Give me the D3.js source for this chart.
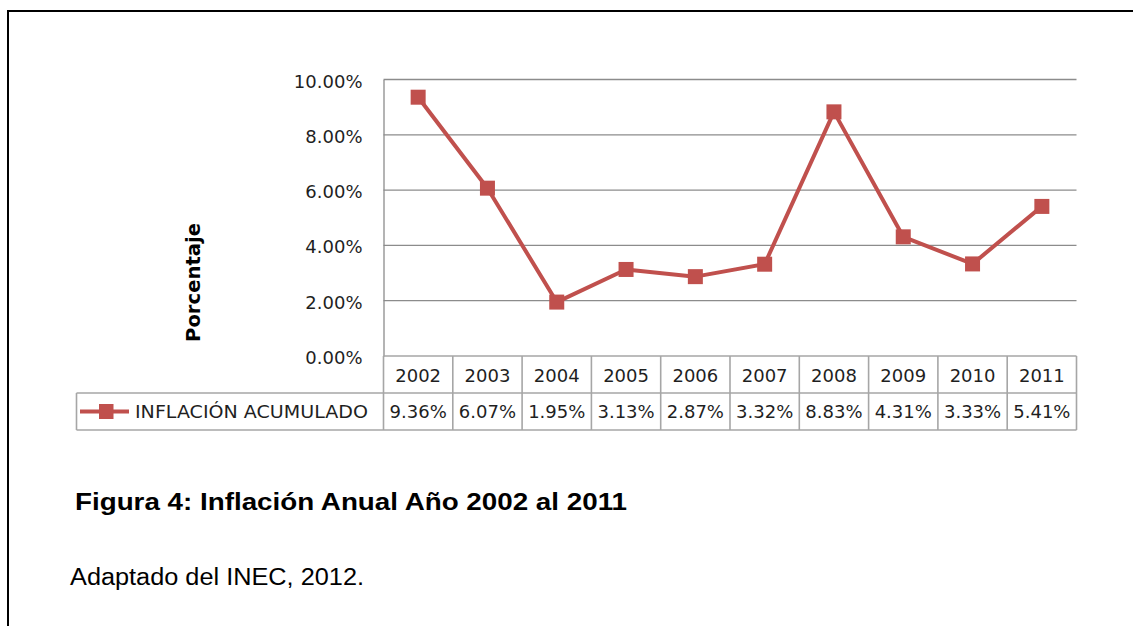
<!DOCTYPE html>
<html>
<head>
<meta charset="utf-8">
<script src="https://cdn.jsdelivr.net/npm/d3@7"></script>
<style>
  body { margin: 0; background: #fff; }
  svg { display: block; }
</style>
</head>
<body>
<div id="chart"></div>
<script>
// data
const years = ["2002", "2003", "2004", "2005", "2006", "2007", "2008", "2009", "2010", "2011"];
const inflacion = [0.0936, 0.0607, 0.0195, 0.0313, 0.0287, 0.0332, 0.0883, 0.0431, 0.0333, 0.0541];
const yTicks = [0, 0.02, 0.04, 0.06, 0.08, 0.10];
const seriesName = "INFLACIÓN  ACUMULADO";
const yTitle = "Porcentaje";
const figTitle = "Figura 4: Inflación Anual Año 2002 al 2011";
const source = "Adaptado del INEC, 2012.";

const W = 1133, H = 626;
const red = "#c0504d", grid = "#8c8c8c", tableLine = "#a6a6a6", ink = "#1f1f1f";
const font = "'DejaVu Sans', Verdana, sans-serif";
const capFont = "'Liberation Sans Narrow', 'Liberation Sans', Arial, sans-serif";

const svg = d3.select("#chart").append("svg")
    .attr("width", W).attr("height", H);

// page frame (right and bottom edges fall outside the picture)
svg.append("rect")
    .attr("x", 8).attr("y", 11)
    .attr("width", 1300).attr("height", 800)
    .attr("fill", "none").attr("stroke", "#000").attr("stroke-width", 2);

const plot = { left: 383.5, right: 1076.5, top: 79.5, bottom: 356 };
const rowH = 37;

const x = d3.scaleBand().domain(years).range([plot.left, plot.right]);
const y = d3.scaleLinear().domain([0, 0.10]).range([plot.bottom, plot.top]);

// gridlines
svg.append("g")
    .selectAll("line")
    .data(yTicks.filter(d => d > 0))
    .join("line")
    .attr("x1", plot.left).attr("x2", plot.right)
    .attr("y1", d => y(d)).attr("y2", d => y(d))
    .attr("stroke", grid).attr("stroke-width", 1.3);

// y axis
const yAxis = svg.append("g")
    .attr("transform", `translate(${plot.left},0)`)
    .call(d3.axisLeft(y).tickValues(yTicks).tickFormat(d3.format(".2%")).tickSize(0).tickPadding(21));
yAxis.select(".domain").attr("stroke", grid).attr("stroke-width", 1.3);
yAxis.selectAll("text")
    .attr("dy", "0.42em")
    .attr("font-family", font).attr("font-size", 18).attr("fill", ink);

// y title
svg.append("text")
    .attr("transform", "translate(200,282.5) rotate(-90)")
    .attr("text-anchor", "middle")
    .attr("font-family", font).attr("font-size", 19.5).attr("font-weight", "bold")
    .attr("textLength", 119).attr("lengthAdjust", "spacingAndGlyphs")
    .attr("fill", "#000")
    .text(yTitle);

// data table
const table = svg.append("g");
const tLeft = 76.5, tTop = plot.bottom, tBottom = plot.bottom + 2 * rowH;

table.append("line")
    .attr("x1", tLeft).attr("x2", plot.right)
    .attr("y1", tTop + rowH).attr("y2", tTop + rowH);
table.append("line")
    .attr("x1", tLeft).attr("x2", plot.right)
    .attr("y1", tBottom).attr("y2", tBottom);
table.append("line")
    .attr("x1", plot.left).attr("x2", plot.right)
    .attr("y1", tTop).attr("y2", tTop);
table.append("line")
    .attr("x1", tLeft).attr("x2", tLeft)
    .attr("y1", tTop + rowH).attr("y2", tBottom);
table.selectAll(".col")
    .data(years.concat(["end"]))
    .join("line")
    .attr("class", "col")
    .attr("x1", (d, i) => plot.left + i * x.bandwidth())
    .attr("x2", (d, i) => plot.left + i * x.bandwidth())
    .attr("y1", tTop).attr("y2", tBottom);
table.selectAll("line").attr("stroke", tableLine).attr("stroke-width", 1.6);

table.selectAll(".yr")
    .data(years)
    .join("text")
    .attr("class", "yr")
    .attr("x", d => x(d) + x.bandwidth() / 2)
    .attr("y", tTop + 26)
    .attr("text-anchor", "middle")
    .attr("font-family", font).attr("font-size", 18).attr("fill", ink)
    .text(d => d);

table.selectAll(".val")
    .data(inflacion)
    .join("text")
    .attr("class", "val")
    .attr("x", (d, i) => x(years[i]) + x.bandwidth() / 2)
    .attr("y", tTop + rowH + 25)
    .attr("text-anchor", "middle")
    .attr("font-family", font).attr("font-size", 18).attr("fill", ink)
    .text(d => d3.format(".2%")(d));

// legend key
const keyY = tTop + rowH * 1.5;
table.append("line")
    .attr("x1", 80).attr("x2", 129)
    .attr("y1", keyY).attr("y2", keyY)
    .attr("stroke", red).attr("stroke-width", 4);
table.append("rect")
    .attr("x", 99).attr("y", keyY - 7.5)
    .attr("width", 14.5).attr("height", 15)
    .attr("fill", red);
table.append("text")
    .attr("x", 135).attr("y", tTop + rowH + 25)
    .attr("font-family", font).attr("font-size", 18).attr("fill", ink)
    .attr("textLength", 233).attr("lengthAdjust", "spacingAndGlyphs")
    .text(seriesName);

// line
const pts = years.map((d, i) => [d, inflacion[i]]);
svg.append("path")
    .datum(pts)
    .attr("fill", "none")
    .attr("stroke", red)
    .attr("stroke-width", 4)
    .attr("stroke-linejoin", "round")
    .attr("d", d3.line()
        .x(d => x(d[0]) + x.bandwidth() / 2)
        .y(d => y(d[1])));

svg.append("g")
    .selectAll("rect")
    .data(pts)
    .join("rect")
    .attr("x", d => x(d[0]) + x.bandwidth() / 2 - 7.5)
    .attr("y", d => y(d[1]) - 7.5)
    .attr("width", 15).attr("height", 15)
    .attr("fill", red);

// captions
svg.append("text")
    .attr("x", 75).attr("y", 510)
    .attr("font-family", capFont)
    .attr("font-size", 24).attr("font-weight", "bold")
    .attr("textLength", 552).attr("lengthAdjust", "spacingAndGlyphs")
    .attr("fill", "#000")
    .text(figTitle);

svg.append("text")
    .attr("x", 70).attr("y", 585)
    .attr("font-family", capFont)
    .attr("font-size", 23)
    .attr("textLength", 294).attr("lengthAdjust", "spacingAndGlyphs")
    .attr("fill", "#000")
    .text(source);
</script>
</body>
</html>
